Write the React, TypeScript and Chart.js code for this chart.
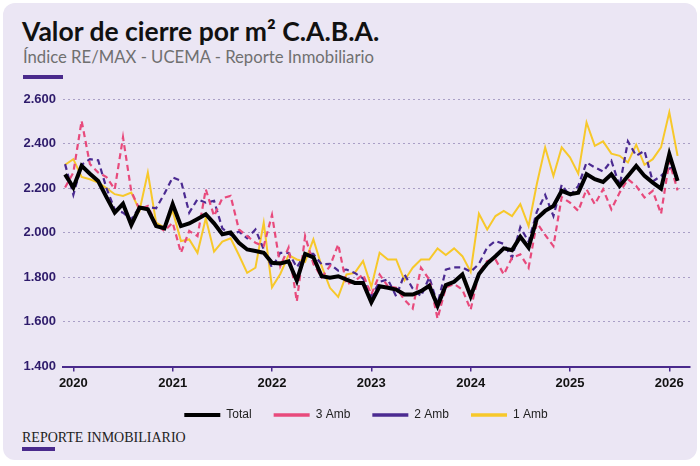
import React, { useEffect, useRef } from "react";
import { Chart, registerables } from "chart.js";

Chart.register(...registerables);

// Monthly closing values, first point = Dec 2019, last point = Feb 2026
const firstYear = 2019;
const firstMonth = 12;

const total = [
  2262, 2203, 2300, 2265, 2232, 2160, 2090, 2130, 2035, 2113,
  2105, 2030, 2020, 2128, 2030, 2042, 2062, 2083, 2042, 1993,
  2001, 1955, 1925, 1918, 1910, 1865, 1862, 1872, 1785, 1905,
  1890, 1805, 1798, 1805, 1790, 1775, 1775, 1688, 1760, 1753,
  1745, 1723, 1723, 1738, 1762, 1672, 1765, 1780, 1813, 1715,
  1815, 1862, 1895, 1930, 1922, 1982, 1933, 2064, 2098, 2120,
  2188, 2173, 2180, 2263, 2240, 2228, 2262, 2210, 2255, 2300,
  2255, 2225, 2198, 2353, 2233,
];

const amb3 = [
  2203, 2270, 2502, 2308, 2270, 2250, 2195, 2428, 2185, 2105,
  2120, 2038, 2008, 2045, 1910, 2008, 1985, 2195, 2075, 2155,
  2165, 2015, 1985, 1955, 1940, 2080, 1850, 1933, 1692, 1985,
  1860, 1800, 1850, 1948, 1768, 1783, 1813, 1723, 1813, 1760,
  1753, 1700, 1660, 1843, 1790, 1615, 1755, 1770, 1745, 1655,
  1820, 1873, 1880, 1813, 1888, 1903, 1843, 2045, 1990, 1940,
  2160, 2135, 2098, 2195, 2128, 2195, 2105, 2180, 2240, 2210,
  2158, 2188, 2085, 2320, 2190,
];

const amb2 = [
  2308, 2170, 2305, 2330, 2325, 2200, 2105, 2090, 2060, 2115,
  2115, 2110, 2175, 2248, 2233, 2090, 2150, 2135, 2143, 2020,
  1990, 2005, 1975, 2015, 1925, 1843, 1910, 1910, 1845, 1905,
  1905, 1858, 1860, 1830, 1835, 1820, 1795, 1715, 1780, 1790,
  1715, 1813, 1750, 1715, 1800, 1680, 1835, 1845, 1845, 1825,
  1860, 1935, 1963, 1950, 1888, 2025, 1960, 2095, 2170, 2075,
  2215, 2165, 2210, 2315, 2293, 2275, 2323, 2210, 2410, 2345,
  2368, 2230, 2255, 2288, 2300,
];

const amb1 = [
  2305, 2330, 2250, 2240, 2225, 2200, 2173, 2165, 2180, 2100,
  2270, 2045, 2023, 2098, 1963, 1970, 1910, 2065, 1915, 1960,
  1975, 1900, 1820, 1843, 2045, 1755, 1815, 1900, 1880, 1870,
  1970, 1850, 1753, 1712, 1813, 1820, 1873, 1757, 1910, 1880,
  1880, 1786, 1843, 1880, 1880, 1930, 1900, 1930, 1895, 1825,
  2085, 2015, 2075, 2098, 2075, 2128, 2030, 2220, 2383, 2255,
  2383, 2338, 2265, 2495, 2390, 2410, 2355, 2345, 2315, 2395,
  2305, 2330, 2383, 2540, 2345,
];

const seriesLabels = ["Total", "3 Amb", "2 Amb", "1 Amb"];
const yearTicks = [2020, 2021, 2022, 2023, 2024, 2025, 2026];
const yTicks = [1400, 1600, 1800, 2000, 2200, 2400, 2600];

const title = "Valor de cierre por m\u00B2 C.A.B.A.";
const subtitle = "\u00CDndice RE/MAX - UCEMA - Reporte Inmobiliario";
const footer = "REPORTE INMOBILIARIO";

// month index relative to first point
const monthIndex = (year: number, month: number) =>
  (year - firstYear) * 12 + (month - firstMonth);

const toPoints = (arr: number[]) => arr.map((v, i) => ({ x: i, y: v }));

const fmtThousands = (v: number) =>
  String(Math.round(v)).replace(/\B(?=(\d{3})+(?!\d))/g, ".");

const PURPLE = "#4a2a8c";

// shift the legend block horizontally so it sits where the reference has it
const legendShift = {
  id: "legendShift",
  afterLayout(chart: any) {
    const lg = chart.legend;
    if (lg) {
      lg.left += 21;
      lg.right += 21;
    }
  },
};

export default function App() {
  const canvasRef = useRef<HTMLCanvasElement | null>(null);

  useEffect(() => {
    const canvas = canvasRef.current;
    if (!canvas) return;
    const legendWidths = [4, 3.5, 3.5, 3.5];
    const chart = new Chart(canvas, {
      type: "line",
      data: {
        datasets: [
          {
            label: seriesLabels[0],
            data: toPoints(total),
            borderColor: "#000000",
            backgroundColor: "#000000",
            borderWidth: 4,
            pointRadius: 0,
            tension: 0,
            borderJoinStyle: "miter",
          },
          {
            label: seriesLabels[1],
            data: toPoints(amb3),
            borderColor: "#e84a7c",
            backgroundColor: "#e84a7c",
            borderWidth: 2.2,
            borderDash: [6, 4],
            pointRadius: 0,
            tension: 0,
          },
          {
            label: seriesLabels[2],
            data: toPoints(amb2),
            borderColor: "#4b2a91",
            backgroundColor: "#4b2a91",
            borderWidth: 2.2,
            borderDash: [6, 4],
            pointRadius: 0,
            tension: 0,
          },
          {
            label: seriesLabels[3],
            data: toPoints(amb1),
            borderColor: "#f7c82a",
            backgroundColor: "#f7c82a",
            borderWidth: 2,
            pointRadius: 0,
            tension: 0,
          },
        ],
      },
      options: {
        responsive: false,
        animation: false,
        devicePixelRatio: 1,
        layout: { padding: { left: 0, right: 10, top: 99, bottom: 35 } },
        plugins: {
          tooltip: { enabled: false },
          legend: {
            position: "bottom",
            labels: {
              usePointStyle: true,
              pointStyle: "line",
              pointStyleWidth: 36,
              padding: 22,
              color: "#222222",
              font: { family: "Arial, 'Liberation Sans', sans-serif", size: 12 },
              generateLabels: (ch: any) =>
                Chart.defaults.plugins.legend.labels
                  .generateLabels(ch)
                  .map((l: any, i: number) => ({ ...l, lineWidth: legendWidths[i] })),
            },
          },
        },
        scales: {
          x: {
            type: "linear",
            min: -0.25,
            max: 75.5,
            afterBuildTicks: (s: any) => {
              s.ticks = yearTicks.map((y) => ({ value: monthIndex(y, 1) }));
            },
            afterFit: (s: any) => {
              s.height = 20.5;
            },
            ticks: {
              autoSkip: false,
              maxRotation: 0,
              padding: 4,
              color: "#111111",
              font: { family: "Arial, 'Liberation Sans', sans-serif", size: 13, weight: "bold" },
              callback: (v: any) => {
                const idx = Number(v);
                const y = firstYear + Math.floor((firstMonth - 1 + idx) / 12);
                return String(y);
              },
            },
            grid: {
              drawOnChartArea: false,
              drawTicks: true,
              tickLength: 5,
              color: PURPLE,
              lineWidth: 1.5,
            },
            border: { display: true, color: PURPLE, width: 2 },
          },
          y: {
            min: 1400,
            max: 2600,
            afterBuildTicks: (s: any) => {
              s.ticks = yTicks.map((v) => ({ value: v }));
            },
            afterFit: (s: any) => {
              s.width = 63;
            },
            ticks: {
              padding: 7,
              color: "#2e1b6b",
              font: { family: "Arial, 'Liberation Sans', sans-serif", size: 13, weight: "bold" },
              callback: (v: any) => fmtThousands(Number(v)),
            },
            grid: { color: "#a99fc6", lineWidth: 1, drawTicks: false },
            border: { display: false, dash: [2, 3] },
          },
        },
      },
      plugins: [legendShift],
    } as any);
    return () => chart.destroy();
  }, []);

  return (
    <div
      style={{
        position: "fixed",
        left: 0,
        top: 0,
        width: 700,
        height: 466,
        background: "#ffffff",
        overflow: "hidden",
      }}
    >
      <div
        style={{
          position: "absolute",
          left: 3,
          top: 3,
          width: 694,
          height: 457,
          borderRadius: 12,
          background: "#ebe6f4",
        }}
      />
      <div
        style={{
          position: "absolute",
          left: 22,
          top: 18,
          font: "700 26.5px Lato, sans-serif",
          lineHeight: "26.5px",
          color: "#111111",
          whiteSpace: "nowrap",
        }}
      >
        {title}
      </div>
      <div
        style={{
          position: "absolute",
          left: 23,
          top: 48.5,
          font: "400 16.7px Lato, sans-serif",
          lineHeight: "16.7px",
          color: "#707070",
          whiteSpace: "nowrap",
        }}
      >
        {subtitle}
      </div>
      <div
        style={{
          position: "absolute",
          left: 23,
          top: 75,
          width: 40,
          height: 3.5,
          background: PURPLE,
        }}
      />
      <div
        style={{
          position: "absolute",
          left: 22,
          top: 431,
          font: "400 14px 'Liberation Serif', 'Times New Roman', serif",
          lineHeight: "14px",
          color: "#222222",
          whiteSpace: "nowrap",
        }}
      >
        {footer}
      </div>
      <div
        style={{
          position: "absolute",
          left: 22,
          top: 446.5,
          width: 33,
          height: 4,
          background: PURPLE,
        }}
      />
      <canvas
        ref={canvasRef}
        width={700}
        height={466}
        style={{ position: "absolute", left: 0, top: 0, width: 700, height: 466 }}
      />
    </div>
  );
}
